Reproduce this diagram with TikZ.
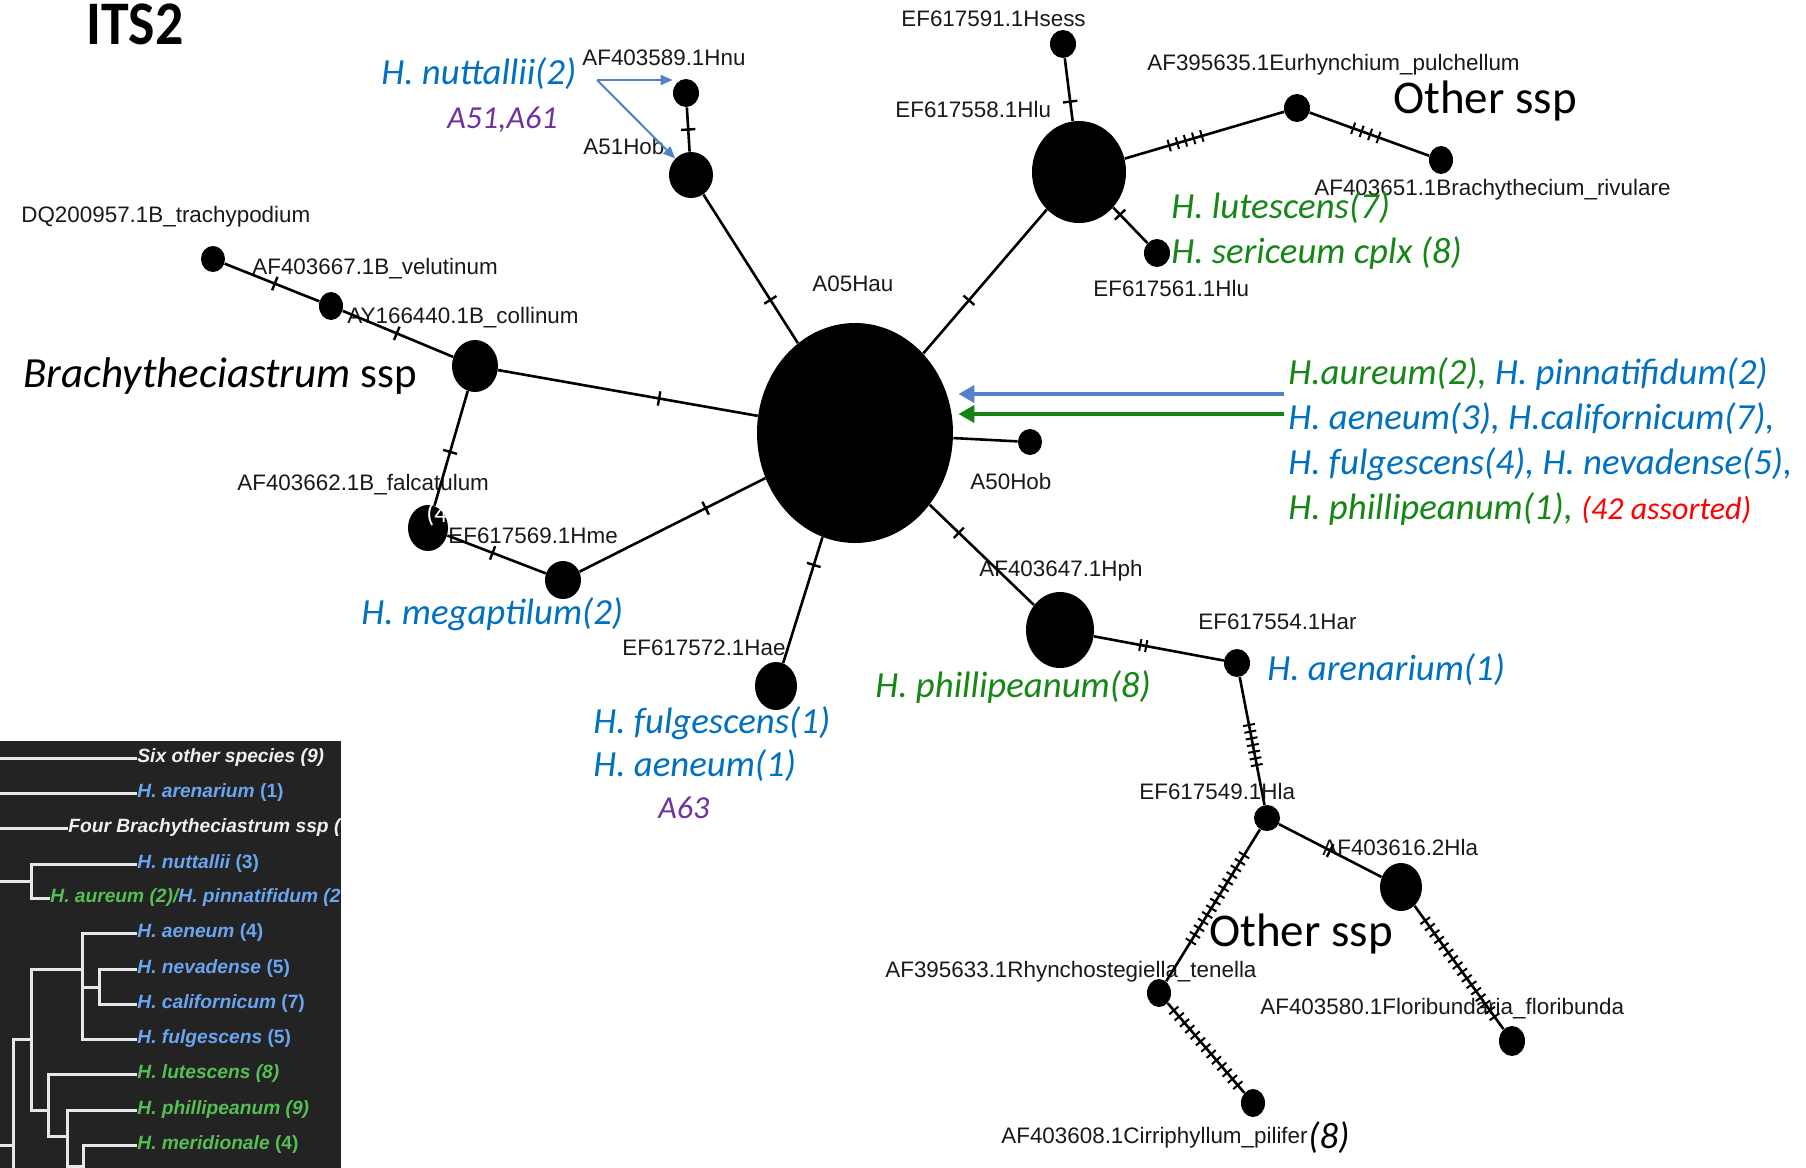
\documentclass[tikz,border=0pt]{standalone}
\usepackage{fontspec}
\setmainfont{Liberation Sans}
\newfontfamily\calfont{Carlito}
\usetikzlibrary{shapes.geometric,decorations.markings,arrows.meta,calc}

\definecolor{labgray}{RGB}{25,25,25}
\definecolor{hblue}{RGB}{0,112,192}
\definecolor{hgreen}{RGB}{22,135,22}
\definecolor{hpurple}{RGB}{112,48,160}
\definecolor{hred}{RGB}{255,0,0}
\definecolor{arrblue}{RGB}{84,130,200}
\definecolor{arrgreen}{RGB}{22,130,22}
\definecolor{treebg}{RGB}{35,35,35}
\definecolor{treeln}{RGB}{232,232,232}
\definecolor{tblue}{RGB}{105,165,240}
\definecolor{tgreen}{RGB}{85,190,85}
\definecolor{twhite}{RGB}{240,240,240}

\begin{document}
\begin{tikzpicture}[x=0.5pt,y=-0.5pt,
  hap/.style 2 args={ellipse, fill=black, draw=none, inner sep=0pt, minimum width=#1pt, minimum height=#2pt},
  lab/.style={font=\fontsize{11.2}{13}\selectfont, text=labgray, inner sep=0pt, anchor=west},
  clab/.style={font=\calfont\itshape\fontsize{18.4}{22}\selectfont, inner sep=0pt, anchor=west},
  slab/.style={font=\calfont\itshape\fontsize{16}{19}\selectfont, inner sep=0pt, anchor=west},
  bigtxt/.style={font=\calfont\fontsize{23.5}{28}\selectfont, inner sep=0pt, anchor=west},
  tt/.style={font=\bfseries\itshape\fontsize{9.6}{11}\selectfont, inner sep=0pt, anchor=west},
  tl/.style={line width=1.5pt, draw=treeln, line join=miter},
  hedge/.style={line width=1.3pt, draw=black},
  onetick/.style={postaction={decorate, decoration={markings, mark=at position #1 with {\draw[line width=1.2pt] (0,-3.6pt) -- (0,3.6pt);}}}},
  manyticks/.style n args={3}{postaction={decorate, decoration={markings, mark=between positions #1 and #2 step #3 with {\draw[line width=1pt] (0,-3pt) -- (0,3pt);}}}},
  bigarrow/.style={line width=2.4pt, -{Triangle[length=8pt,width=8.5pt]}},
  thinarrow/.style={line width=1pt, draw=arrblue, -{Triangle[length=6pt,width=5pt]}, fill=arrblue}
]
\useasboundingbox (0,0) rectangle (1806,1168);
\fill[white] (0,0) rectangle (1806,1168);

% ---------- tree panel ----------
\fill[treebg] (0,741) rectangle (341,1168);
\begin{scope}
\clip (0,741) rectangle (341,1168);
\node[tt, text=twhite] (t1) at (137,758) {Six other species (9)};
\node[tt, text=tblue] (t2) at (137,793) {H. arenarium \upshape(1)};
\node[tt, text=twhite] (t3) at (68,828) {Four Brachytheciastrum ssp (};
\node[tt, text=tblue] (t4) at (137,864) {H. nuttallii \upshape(3)};
\node[tt] (t5) at (50,898) {\textcolor{tgreen}{H. aureum (2)/}\textcolor{tblue}{H. pinnatifidum (2}};
\node[tt, text=tblue] (t6) at (137,933) {H. aeneum \upshape(4)};
\node[tt, text=tblue] (t7) at (137,969) {H. nevadense \upshape(5)};
\node[tt, text=tblue] (t8) at (137,1004) {H. californicum \upshape(7)};
\node[tt, text=tblue] (t9) at (137,1039) {H. fulgescens \upshape(5)};
\node[tt, text=tgreen] (t10) at (137,1074) {H. lutescens (8)};
\node[tt, text=tgreen] (t11) at (137,1110) {H. phillipeanum (9)};
\node[tt, text=tgreen] (t12) at (137,1145) {H. meridionale \upshape(4)};
\draw[tl] (0,758) -- (t1.west);
\draw[tl] (0,793) -- (t2.west);
\draw[tl] (0,828) -- (t3.west);
\draw[tl] (t4.west) -- (31,864) -- (31,898) -- (t5.west);
\draw[tl] (0,881) -- (31,881);
\draw[tl] (t6.west) -- (82,933) -- (82,1039) -- (t9.west);
\draw[tl] (t7.west) -- (99,969) -- (99,1004) -- (t8.west);
\draw[tl] (82,987) -- (99,987);
\draw[tl] (82,969) -- (31,969) -- (31,1110) -- (48,1110);
\draw[tl] (t10.west) -- (48,1074) -- (48,1136) -- (67,1136);
\draw[tl] (t11.west) -- (67,1110) -- (67,1180);
\draw[tl] (t12.west) -- (83,1145) -- (83,1180);
\draw[tl] (67,1166) -- (83,1166);
\draw[tl] (31,1039) -- (13,1039) -- (13,1180);
\draw[tl] (0,1145) -- (13,1145);
\end{scope}

% ---------- title ----------
\node[font=\calfont\bfseries\fontsize{31}{35}\selectfont, inner sep=0pt, anchor=west] (its) at (86,24) {\scalebox{0.9}[1]{ITS2}};

% ---------- grey sequence labels ----------
\node[lab] (lhnu) at (582,58) {AF403589.1Hnu};
\node[lab] (la51) at (583,146) {A51Hob};
\node[lab] (ldq) at (21,217) {DQ200957.1B\_trachypodium};
\node[lab] (lvel) at (252,269) {AF403667.1B\_velutinum};
\node[lab] (lcol) at (347,318) {AY166440.1B\_collinum};
\node[lab] (lfal) at (237,485) {AF403662.1B\_falcatulum};
\node[lab] (lhme) at (448,536) {EF617569.1Hme};
\node[lab] (lhae) at (622,648) {EF617572.1Hae};
\node[lab] (la05) at (812,284) {A05Hau};
\node[lab] (la50) at (970,481) {A50Hob};
\node[lab] (lhph) at (979,571) {AF403647.1Hph};
\node[lab] (lhar) at (1198,622) {EF617554.1Har};
\node[lab] (lhla) at (1139,791) {EF617549.1Hla};
\node[lab] (l616) at (1322,847) {AF403616.2Hla};
\node[lab] (lrhy) at (885,972) {AF395633.1Rhynchostegiella\_tenella};
\node[lab] (lflo) at (1260,1009) {AF403580.1Floribundaria\_floribunda};
\node[lab] (lcir) at (1001,1138) {AF403608.1Cirriphyllum\_pilifer};
\node[lab] (lhse) at (901,19) {EF617591.1Hsess};
\node[lab] (lhlu) at (895,109) {EF617558.1Hlu};
\node[lab] (leur) at (1147,65) {AF395635.1Eurhynchium\_pulchellum};
\node[lab] (lriv) at (1314,190) {AF403651.1Brachythecium\_rivulare};
\node[lab] (lhl2) at (1093,288) {EF617561.1Hlu};

% ---------- coloured annotations ----------
\node[clab, text=hblue] (cnut) at (381,74) {H. nuttallii(2)};
\node[slab, text=hpurple] (ca51) at (447,120) {A51,A61};
\node[inner sep=0pt, anchor=west, font=\calfont\fontsize{21.5}{26}\selectfont] (cbra) at (23,376) {\textit{Brachytheciastrum} ssp};
\node[clab, text=hblue] (cmeg) at (361,614) {H. megaptilum(2)};
\node[clab, text=hblue] (cful) at (593,723) {H. fulgescens(1)};
\node[clab, text=hblue] (caen) at (593,766) {H. aeneum(1)};
\node[slab, text=hpurple] (ca63) at (658,808) {A63};
\node[clab, text=hgreen] (cphi) at (875,687) {H. phillipeanum(8)};
\node[clab, text=hblue] (care) at (1267,670) {H. arenarium(1)};
\node[clab, text=hgreen] (clut) at (1171,208) {H. lutescens(7)};
\node[clab, text=hgreen] (cser) at (1171,253) {H. sericeum cplx (8)};
\node[bigtxt] (oth1) at (1393,101) {Other ssp};
\node[bigtxt] (oth2) at (1209,934) {Other ssp};
\node[clab] (blk1) at (1288,374) {\textcolor{hgreen}{H.aureum(2), }\textcolor{hblue}{H. pinnatifidum(2)}};
\node[clab, text=hblue] (blk2) at (1288,419) {H. aeneum(3), H.californicum(7),};
\node[clab, text=hblue] (blk3) at (1288,464) {H. fulgescens(4), H. nevadense(5),};
\node[clab] (blk4) at (1288,509) {\textcolor{hgreen}{H. phillipeanum(1), }\textcolor{hred}{\fontsize{16}{19}\selectfont(42 assorted)}};

% ---------- haplotypes ----------
\node[hap={98}{110}] (cent) at (855,433) {};
\node[hap={13}{14}] (hnu) at (686,93) {};
\node[hap={22}{23}] (a51) at (691,175) {};
\node[hap={12}{13}] (dq) at (213,259) {};
\node[hap={12}{14}] (vel) at (331,306) {};
\node[hap={23}{26}] (col) at (475,366) {};
\node[hap={20}{23}] (fal) at (428,528) {};
\node[hap={18}{19}] (meg) at (563,580) {};
\node[hap={21}{24}] (hae) at (776,686) {};
\node[hap={12}{13}] (a50) at (1030,442) {};
\node[hap={34}{38}] (hph) at (1060,630) {};
\node[hap={13}{14}] (har) at (1237,663) {};
\node[hap={13}{13}] (hla) at (1267,818) {};
\node[hap={21}{24}] (h616) at (1401,887) {};
\node[hap={12}{14}] (rhy) at (1159,993) {};
\node[hap={12}{14}] (cir) at (1253,1103) {};
\node[hap={13}{15}] (flo) at (1512,1041) {};
\node[hap={13}{14}] (hsess) at (1063,44) {};
\node[hap={47}{51}] (hlu) at (1079,172) {};
\node[hap={13}{14}] (eur) at (1297,108) {};
\node[hap={12}{14}] (riv) at (1441,160) {};
\node[hap={13}{14}] (hlu2) at (1157,253) {};

% ---------- edges with mutation ticks ----------
\draw[hedge, onetick=0.5] (hnu) -- (a51);
\draw[hedge, onetick=0.71] (a51) -- (cent);
\draw[hedge, onetick=0.53] (dq) -- (vel);
\draw[hedge, onetick=0.49] (vel) -- (col);
\draw[hedge, onetick=0.62] (col) -- (cent);
\draw[hedge, onetick=0.53] (col) -- (fal);
\draw[hedge, onetick=0.46] (fal) -- (meg);
\draw[hedge, onetick=0.68] (meg) -- (cent);
\draw[hedge, onetick=0.78] (hae) -- (cent);
\draw[hedge] (cent) -- (a50);
\draw[hedge, onetick=0.28] (cent) -- (hph);
\draw[hedge, onetick=0.37] (cent) -- (hlu);
\draw[hedge, onetick=0.69] (hsess) -- (hlu);
\draw[hedge, onetick=0.2] (hlu) -- (hlu2);
\draw[hedge, manyticks={0.279}{0.49}{4.25pt}] (hlu) -- (eur);
\draw[hedge, manyticks={0.364}{0.585}{4.5pt}] (eur) -- (riv);
\draw[hedge, manyticks={0.357}{0.41}{3pt}] (hph) -- (har);
\draw[hedge, manyticks={0.375}{0.70}{3.4pt}] (har) -- (hla);
\draw[hedge, onetick=0.5] (hla) -- (h616);
\draw[hedge, manyticks={0.17}{0.745}{3.9pt}] (hla) -- (rhy);
\draw[hedge, manyticks={0.08}{0.93}{4.1pt}] (rhy) -- (cir);
\draw[hedge, manyticks={0.12}{0.91}{3.95pt}] (h616) -- (flo);

% ---------- overlays ----------
\node[font=\calfont\fontsize{13}{15}\selectfont, text=white, inner sep=0pt, anchor=west] (c4) at (426,515) {(4};
\node[clab, text=black] (c8) at (lcir.east) {(8)};

% ---------- arrows ----------
\coordinate (nutt) at (597,80);
\draw[thinarrow] (nutt) -- (hnu.west |- nutt);
\draw[thinarrow] (nutt) -- (a51.north west);
\coordinate (bstart) at (1284,394);
\coordinate (gstart) at (1284,414);
\draw[bigarrow, draw=arrblue, fill=arrblue] (bstart) -- ($(bstart -| cent.east)+(5,0)$);
\draw[bigarrow, draw=arrgreen, fill=arrgreen] (gstart) -- ($(gstart -| cent.east)+(5,0)$);
\end{tikzpicture}
\end{document}
